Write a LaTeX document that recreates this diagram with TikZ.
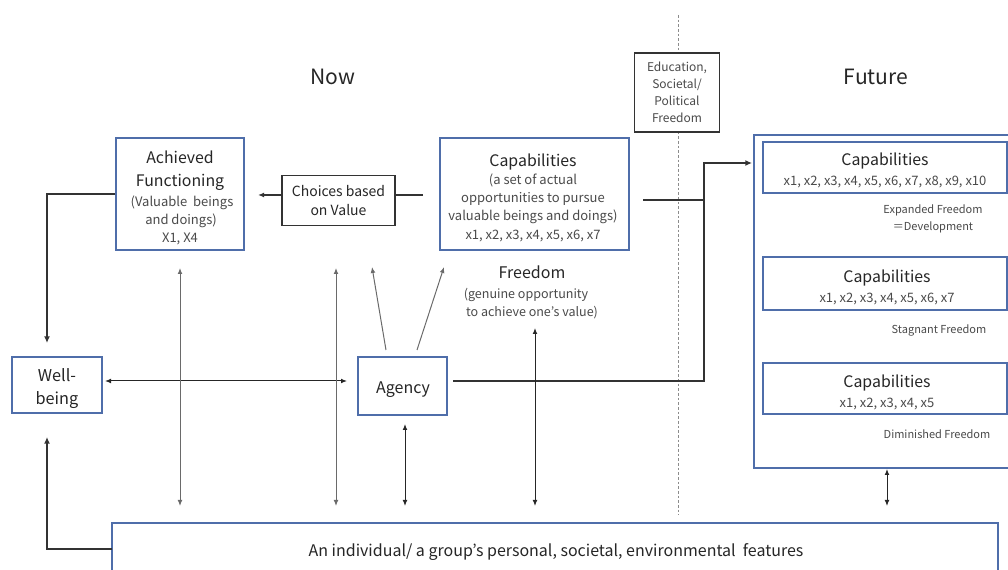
\documentclass[tikz,border=0pt]{standalone}
\usepackage{fontspec}
\setmainfont{Noto Sans CJK KR}
\usetikzlibrary{arrows.meta}
\definecolor{boxblue}{HTML}{4F6EAA}
\definecolor{ink}{HTML}{262626}
\definecolor{soft}{HTML}{4A4A4A}
\definecolor{linegray}{HTML}{6A6A6A}
\definecolor{dark}{HTML}{333333}
\definecolor{dashgray}{HTML}{8C8C8C}
\begin{document}
\begin{tikzpicture}[x=0.75pt,y=-0.75pt,
  bbox/.style={draw=boxblue, line width=1.1pt, inner sep=0pt, fill=white},
  kbox/.style={draw=dark, line width=1.4pt, inner sep=0pt, fill=white},
  txt/.style={inner sep=0pt, anchor=base, text=ink},
  subtxt/.style={txt, text=soft},
  fs/.style={font=\fontsize{#1pt}{#1pt}\selectfont, yshift=-0.4*#1pt},
  thinarr/.style={draw=linegray, line width=0.75pt, -{Latex[length=4.5pt,width=3.6pt]}},
  dblarr/.style={draw=linegray, line width=0.75pt, {Latex[length=4.5pt,width=3.6pt]}-{Latex[length=4.5pt,width=3.6pt]}},
  heavy/.style={draw=dark, line width=1.5pt},
  heavyarr/.style={heavy, -{Latex[length=5pt,width=4.5pt]}},
  divider/.style={draw=dashgray, line width=0.6pt, dash pattern=on 2pt off 1.5pt}
]
\useasboundingbox (0,0) rectangle (1008,570);

% divider
\coordinate (divTop) at (678,15);
\coordinate (divBot) at (678,515);
\draw[divider] (divTop) -- (divBot);

% headings
\node[txt, fs=15.8] (now) at (333,76) {Now};
\node[txt, fs=15.8] (future) at (876,76) {Future};

% boxes
\node[kbox, minimum width=63.75pt, minimum height=59.25pt] (edu) at (677,92.5) {};
\node[bbox, minimum width=96pt, minimum height=84pt] (af) at (180,194) {};
\node[kbox, minimum width=84.75pt, minimum height=37.5pt] (ch) at (338.5,200.5) {};
\node[bbox, minimum width=141.75pt, minimum height=84pt] (cap) at (534.5,194) {};
\node[bbox, minimum width=67.5pt, minimum height=42pt] (wb) at (57,385) {};
\node[bbox, minimum width=66.75pt, minimum height=43.5pt] (ag) at (402.5,386) {};
\node[bbox, minimum width=193.5pt, minimum height=249.75pt] (fut) at (883,301.5) {};
\node[bbox, minimum width=183pt, minimum height=38.25pt] (f1) at (885,167.5) {};
\node[bbox, minimum width=183pt, minimum height=39.75pt] (f2) at (885,283.5) {};
\node[bbox, minimum width=183pt, minimum height=38.25pt] (f3) at (885,388.5) {};
\node[bbox, minimum width=664.5pt, minimum height=57.75pt] (bot) at (555,561.5) {};

% education text
\node[subtxt, fs=9] (edu1) at (677,67) {Education,};
\node[subtxt, fs=9] (edu2) at (677,84) {Societal/};
\node[subtxt, fs=9] (edu3) at (677,101) {Political};
\node[subtxt, fs=9] (edu4) at (677,118) {Freedom};

% achieved functioning text
\node[txt, fs=11.9] (af1) at (180,157) {Achieved};
\node[txt, fs=11.9] (af2) at (180,180) {Functioning};
\node[subtxt, fs=9.75] (af3) at (182,201) {(Valuable\ \ beings};
\node[subtxt, fs=9.75] (af4) at (181,219) {and doings)};
\node[subtxt, fs=9.75] (af5) at (180,237) {X1, X4};

% choices text
\node[txt, fs=10.5] (ch1) at (338.5,191) {Choices based};
\node[txt, fs=10.5] (ch2) at (338.5,210) {on Value};

% capabilities (now)
\node[txt, fs=11.9] (cap1) at (533,160) {Capabilities};
\node[subtxt, fs=9.75] (cap2) at (533,179) {(a set of actual};
\node[subtxt, fs=9.75] (cap3) at (533,197) {opportunities\ to pursue};
\node[subtxt, fs=9.75] (cap4) at (533,215) {valuable beings and doings)};
\node[subtxt, fs=9.75] (cap5) at (533,234) {x1, x2, x3, x4, x5, x6, x7};

% freedom
\node[txt, fs=12] (fr1) at (532,272) {Freedom};
\node[subtxt, fs=9.4] (fr2) at (526,293) {(genuine\ opportunity};
\node[subtxt, fs=9.4] (fr3) at (532,311) {to achieve one's value)};

% well-being and agency
\node[txt, fs=12.2] (wb1) at (57,375) {Well-};
\node[txt, fs=12.2] (wb2) at (57,398) {being};
\node[txt, fs=12] (ag1) at (403,387) {Agency};

% future boxes
\node[txt, fs=11.9] (f1a) at (885,159) {Capabilities};
\node[subtxt, fs=9.75] (f1b) at (885,180) {x1, x2, x3, x4, x5, x6, x7, x8, x9, x10};
\node[subtxt, fs=8.25] (c1a) at (933,209) {Expanded Freedom};
\node[subtxt, fs=8.25] (c1b) at (933,226) {＝Development};
\node[txt, fs=11.9] (f2a) at (887,276) {Capabilities};
\node[subtxt, fs=9.75] (f2b) at (887,297) {x1, x2, x3, x4, x5, x6, x7};
\node[subtxt, fs=8.25] (c2) at (939,329) {Stagnant Freedom};
\node[txt, fs=11.9] (f3a) at (887,381) {Capabilities};
\node[subtxt, fs=9.75] (f3b) at (887,402) {x1, x2, x3, x4, x5};
\node[subtxt, fs=8.25] (c3) at (937,434) {Diminished Freedom};

% bottom text
\node[txt, fs=12] (bt) at (556,550) {An individual/ a group's personal, societal, environmental\ \ features};

% connectors
\coordinate (afTip) at (258,195);
\draw[thinarr, draw=dark, line width=1pt] (ch.west |- afTip) -- (afTip);
\coordinate (capStub) at (423,195);
\draw[draw=dark, line width=1pt] (capStub) -- (ch.east |- capStub);

\coordinate (capOut) at (643,200);
\coordinate (bend) at (704,200);
\draw[heavy] (capOut) -- (bend);
\coordinate (agOut) at (453,381);
\coordinate (futIn) at (752,163);
\draw[heavyarr] (agOut) -- (bend |- agOut) -- (bend |- futIn) -- (futIn);

\coordinate (wbR) at (105,381);
\coordinate (agL) at (347,381);
\draw[dblarr, draw=ink] (wbR) -- (agL);

\coordinate (wbTop) at (47,343);
\draw[heavyarr] (af.west) -- (wbTop |- af.west) -- (wbTop);
\coordinate (botJoin) at (112,549);
\coordinate (wbBot) at (47,437);
\draw[heavyarr] (botJoin) -- (wbBot |- botJoin) -- (wbBot);

\coordinate (v1t) at (180,268); \coordinate (v1b) at (180,506);
\draw[dblarr] (v1t) -- (v1b);
\coordinate (v2t) at (336,268); \coordinate (v2b) at (336,506);
\draw[dblarr] (v2t) -- (v2b);
\coordinate (v3t) at (405,424); \coordinate (v3b) at (405,506);
\draw[dblarr, draw=ink] (v3t) -- (v3b);
\coordinate (v4t) at (535,328); \coordinate (v4b) at (535,506);
\draw[dblarr, draw=ink] (v4t) -- (v4b);
\coordinate (v5t) at (887,469); \coordinate (v5b) at (887,506);
\draw[dblarr, draw=ink] (v5t) -- (v5b);

\coordinate (d1s) at (386,350); \coordinate (d1e) at (372,267);
\draw[thinarr] (d1s) -- (d1e);
\coordinate (d2s) at (417,350); \coordinate (d2e) at (444,267);
\draw[thinarr] (d2s) -- (d2e);
\end{tikzpicture}
\end{document}
